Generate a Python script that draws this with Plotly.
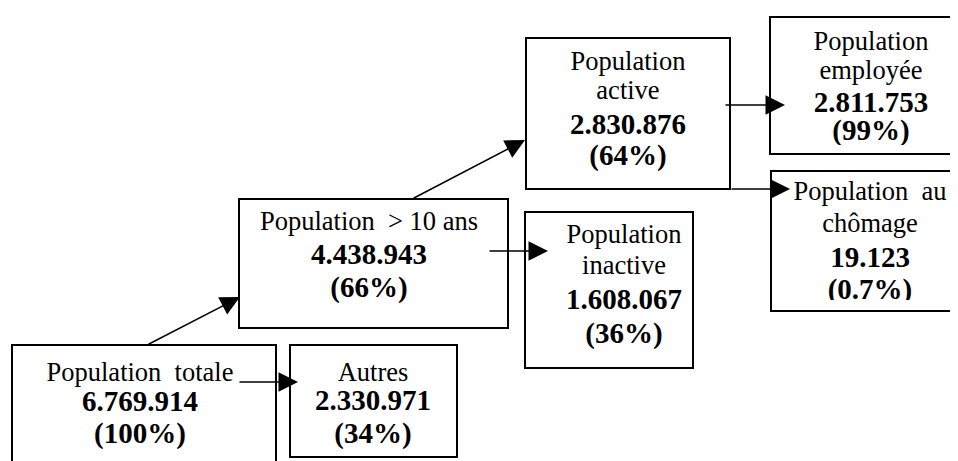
import plotly.graph_objects as go

# ---- data ----
labels = ["Population  totale", "Autres", "Population  > 10 ans", "Population<br>inactive",
          "Population<br>active", "Population<br>employée", "Population  au<br>chômage"]
values = ["6.769.914", "2.330.971", "4.438.943", "1.608.067", "2.830.876", "2.811.753", "19.123"]
percents = ["(100%)", "(34%)", "(66%)", "(36%)", "(64%)", "(99%)", "(0.7%)"]

# ---- layout (pixel coordinates) ----
boxes = [  # x0, y0, x1, y1
    (12, 345, 276, 470),
    (290, 345, 457, 457),
    (239, 199, 508, 328),
    (525, 212, 693, 368),
    (526, 38, 730, 189),
    (770, 17, 955, 154),
    (771, 171, 955, 311),
]
clip_y = [None, 449, None, None, None, 145, 300]  # text frame bottom inside box
text_cx = [140, 373, 369, 624, 628, 871, 870]
text_baselines = [
    [384, 414, 446],
    [384, 413, 446],
    [233, 267, 300],
    [246, 277, 312, 346],
    [73, 102, 137, 168],
    [53, 82, 115, 143],
    [203, 235, 270, 302],
]
arrows = [  # tail x, tail y, head x, head y
    (147, 345, 240, 297),
    (238, 382, 298, 382),
    (488, 251, 548, 251),
    (412, 199, 525, 140),
    (724, 105, 785, 105),
    (730, 189, 790, 189),
]

FONT = "Liberation Serif"
OFF = 8  # page body margin
fig = go.Figure()
shapes = []
for (x0, y0, x1, y1), cy in zip(boxes, clip_y):
    if cy is not None:
        shapes.append(dict(type="rect", x0=x0 + 1, y0=cy, x1=x1 - 1, y1=y1 - 1,
                           xref="x", yref="y", line=dict(width=0), fillcolor="white", layer="above"))
    shapes.append(dict(type="rect", x0=x0, y0=y0, x1=x1, y1=y1, xref="x", yref="y", layer="above",
                       line=dict(color="black", width=2), fillcolor="rgba(0,0,0,0)"))

for i in range(len(labels)):
    lines = [(l, False) for l in labels[i].split("<br>")] + [(values[i], True), (percents[i], True)]
    for (txt, bold), base in zip(lines, text_baselines[i]):
        fs = 29 if bold else 26.5
        fig.add_trace(go.Scatter(
            x=[text_cx[i]], y=[base - 0.35 * fs], mode="text",
            text=[f"<b>{txt}</b>" if bold else txt], textposition="middle center",
            textfont=dict(family=FONT, size=fs, color="black"), hoverinfo="skip"))

annotations = []
for (tx, ty, hx, hy) in arrows:
    annotations.append(dict(x=hx, y=hy, ax=tx, ay=ty, xref="x", yref="y", axref="x", ayref="y",
                            showarrow=True, arrowhead=2, arrowsize=2.6, arrowwidth=1.5,
                            arrowcolor="black", standoff=0, text=""))

fig.update_layout(
    width=958, height=461, margin=dict(l=0, r=0, t=0, b=0),
    paper_bgcolor="white", plot_bgcolor="white",
    xaxis=dict(range=[OFF, 958 + OFF], visible=False, fixedrange=True),
    yaxis=dict(range=[461 + OFF, OFF], visible=False, fixedrange=True),
    shapes=shapes, annotations=annotations, showlegend=False,
)
fig.write_html("out.html")
